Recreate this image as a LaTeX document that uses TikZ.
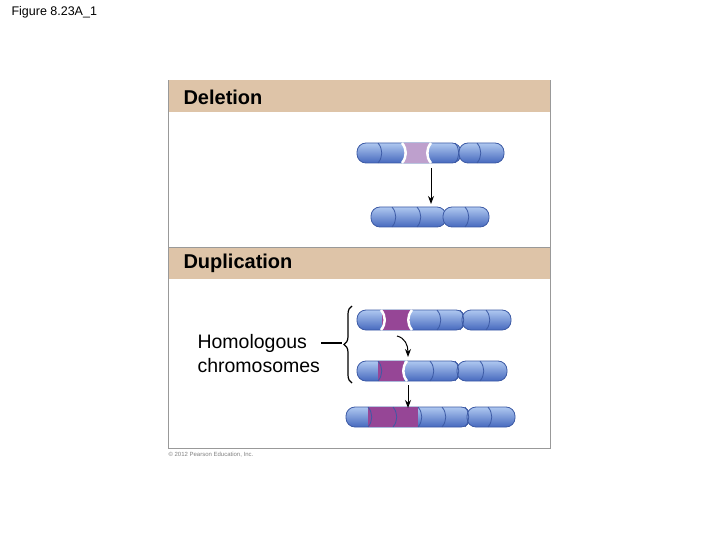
\documentclass[tikz,border=0pt]{standalone}
\usepackage{fontspec}
\setmainfont{Liberation Sans}
\usetikzlibrary{arrows.meta,positioning,decorations.pathreplacing}
\definecolor{tan}{RGB}{222,196,168}
\definecolor{chromoedge}{RGB}{60,90,165}
\definecolor{chromotop}{RGB}{175,200,240}
\definecolor{chromobot}{RGB}{70,105,190}
\definecolor{dupl}{RGB}{150,70,150}
\definecolor{dell}{RGB}{190,160,205}
\tikzset{
  arm/.style={draw=chromoedge, line width=0.8pt, rounded corners=9pt,
    top color=chromotop, bottom color=chromobot},
  band/.style={line width=0.8pt, draw=chromoedge},
  head/.style={font=\fontsize{20}{22}\selectfont\bfseries, anchor=west},
  move/.style={-{Stealth[length=8pt,width=6pt]}, line width=1pt}
}
% arm from x1 to x2 at height y
\newcommand{\chromarm}[3]{\draw[arm] (#1,#3-10) rectangle (#2,#3+10);}
% coloured band from x1 to x2 at height y
\newcommand{\chromband}[4]{\fill[#4] (#1,#3-9.6) rectangle (#2,#3+9.6);}
% border between bands
\newcommand{\chromcut}[2]{\draw[band] (#1-2,#2-10) .. controls (#1+3,#2-4) and (#1+3,#2+4) .. (#1-2,#2+10);}
\begin{document}
\begin{tikzpicture}[x=1pt,y=-1pt]
\useasboundingbox (0,0) rectangle (720,540);
\node[anchor=west, font=\fontsize{12.5}{14}\selectfont] (title) at (8,12) {Figure 8.23A\_1};
% panels
\draw[gray!80] (168,80) rectangle (550,448);
\fill[tan] (168.5,80.5) rectangle (549.5,112);
\fill[tan] (168.5,247) rectangle (549.5,279);
\draw[gray!80] (168,247) -- (550,247);
\node[head] (deletion) at (180,97) {Deletion};
\node[head] (duplication) at (180,263) {Duplication};
\node[anchor=west, font=\fontsize{6}{7}\selectfont, gray] (copy) at (165,455) {© 2012 Pearson Education, Inc.};

%%% deletion
\chromarm{357}{461}{153}
\chromarm{459}{504}{153}
\chromband{404}{429}{153}{dell}
\draw[white, line width=2.5pt] (402,143) .. controls (407,149) and (407,157) .. (402,163);
\draw[white, line width=2.5pt] (431,143) .. controls (426,149) and (426,157) .. (431,163);
\chromcut{380}{153} \chromcut{457}{153} \chromcut{479}{153}
\chromarm{371}{446}{217}
\chromarm{443}{489}{217}
\chromcut{394}{217} \chromcut{419}{217} \chromcut{467}{217}
\coordinate (d1) at (431,168);
\coordinate (d2) at (431,204);
\draw[move] (d1) -- (d2);

%%% duplication
\chromarm{357}{465}{320}
\chromarm{462}{511}{320}
\chromband{382}{410}{320}{dupl}
\draw[white, line width=2.5pt] (381,310) .. controls (386,316) and (386,324) .. (381,330);
\draw[white, line width=2.5pt] (412,310) .. controls (407,316) and (407,324) .. (412,330);
\chromcut{439}{320} \chromcut{462}{320} \chromcut{488}{320}
\chromarm{357}{460}{371}
\chromarm{457}{507}{371}
\chromband{378}{404}{371}{dupl}
\chromcut{380}{371}
\draw[white, line width=2.5pt] (407,361) .. controls (402,367) and (402,375) .. (407,381);
\chromcut{432}{371} \chromcut{457}{371} \chromcut{482}{371}
\chromarm{346}{470}{417}
\chromarm{467}{515}{417}
\chromband{368}{418}{417}{dupl}
\chromcut{370}{417} \chromcut{395}{417} \chromcut{420}{417} \chromcut{444}{417} \chromcut{467}{417} \chromcut{490}{417}
\coordinate (u1) at (397,336);
\coordinate (u2) at (408,357);
\draw[move] (u1) .. controls (405,338) and (408,345) .. (u2);
\coordinate (v1) at (408,385);
\coordinate (v2) at (408,408);
\draw[move] (v1) -- (v2);

%%% homologous label
\node[anchor=west, align=left, font=\fontsize{19.5}{24}\selectfont] (homol) at (194,354) {Homologous\\chromosomes};
\coordinate (b1) at (352,306);
\coordinate (b2) at (352,383);
\coordinate (h1) at (321,343);
\coordinate (h2) at (342,343);
\draw[line width=1.2pt, decorate, decoration={brace, amplitude=8pt}] (b2) -- (b1);
\draw[line width=1.2pt] (h1) -- (h2);
\end{tikzpicture}
\end{document}
